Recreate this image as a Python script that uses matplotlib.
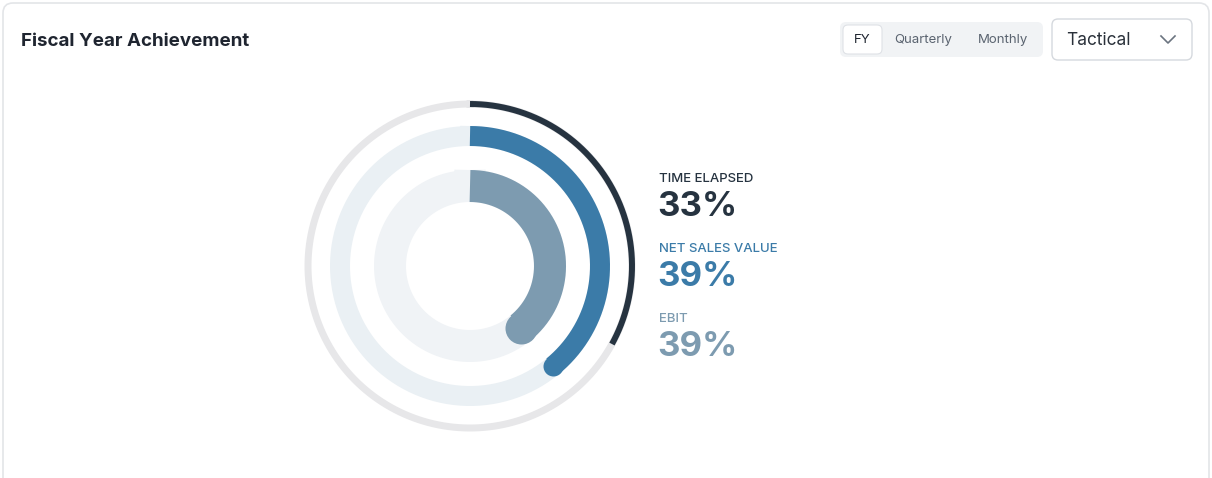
import numpy as np
import matplotlib
matplotlib.use("Agg")
import matplotlib.pyplot as plt
from matplotlib.patches import FancyBboxPatch

labels = ["TIME ELAPSED", "NET SALES VALUE", "EBIT"]
values = [33, 39, 39]
colors = ["#263340", "#3b7ba8", "#7d9bb0"]
tracks = ["#e7e7e9", "#eaf0f4", "#f0f3f6"]
radii = [162, 130, 80]
widths_px = [6, 20, 32]
track_w_px = [7, 20, 32]
periods = ["FY", "Quarterly", "Monthly"]

W, H = 1212, 478
fig = plt.figure(figsize=(W/100, H/100), dpi=100)
ax = fig.add_axes([0, 0, 1, 1])
ax.set_xlim(0, W); ax.set_ylim(H, 0); ax.axis("off")
pt = 0.72
ax.add_patch(FancyBboxPatch((3, 3), W-6, H+20, boxstyle="round,pad=0,rounding_size=10",
                            fc="white", ec="#e3e5e8", lw=1.2))
ax.text(21, 41, "Fiscal Year Achievement", fontsize=13.5, fontweight="bold", color="#1f2530",
        va="center", family="Inter")
ax.add_patch(FancyBboxPatch((840, 22), 203, 35, boxstyle="round,pad=0,rounding_size=6",
                            fc="#f1f3f5", ec="none"))
ax.add_patch(FancyBboxPatch((843, 25), 39, 29, boxstyle="round,pad=0,rounding_size=5",
                            fc="white", ec="#dfe2e6", lw=0.8))
for x, p in zip([862, 923, 1003], periods):
    ax.text(x, 40, p, fontsize=9.5, ha="center", va="center", family="Inter",
            color="#1f2530" if p == "FY" else "#5b6470")
ax.add_patch(FancyBboxPatch((1052, 19), 140, 41, boxstyle="round,pad=0,rounding_size=6",
                            fc="white", ec="#d5d9de", lw=1))
ax.text(1066, 40, "Tactical", fontsize=12.5, va="center", family="Inter", color="#2a313a")
ax.plot([1161, 1168, 1175], [36, 43, 36], color="#6b7480", lw=1.2)

cx, cy = 470, 266
for i, (r, v, c, tc, w, tw) in enumerate(zip(radii, values, colors, tracks, widths_px, track_w_px)):
    t = np.linspace(0, 2*np.pi, 400)
    ax.plot(cx + r*np.sin(t), cy - r*np.cos(t), color=tc, lw=tw*pt)
    a = np.linspace(0, 2*np.pi*v/100, 300)
    ax.plot(cx + r*np.sin(a), cy - r*np.cos(a), color=c, lw=w*pt, solid_capstyle="butt")
    if i > 0:
        ax.plot([cx + r*np.sin(a[-1])], [cy - r*np.cos(a[-1])], "o", color=c, ms=w*pt, mew=0)

for i, (lab, v, c) in enumerate(zip(labels, values, colors)):
    y0 = 179 + 70*i
    ax.text(659, y0, lab, fontsize=9.5, color=c, va="center", family="Inter", fontweight="medium")
    ax.text(657, y0+28, f"{v}%", fontsize=25, color=c, va="center", family="Inter", fontweight="bold")

fig.savefig("out.png", dpi=100)
